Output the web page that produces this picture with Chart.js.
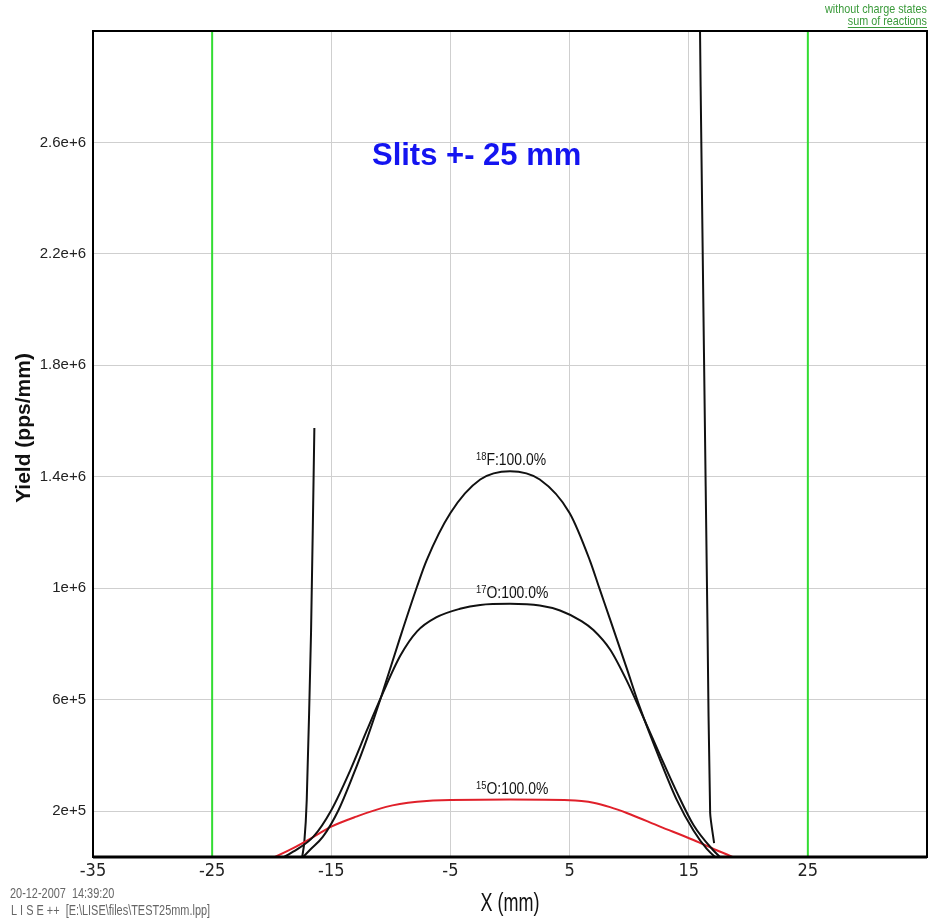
<!DOCTYPE html>
<html>
<head>
<meta charset="utf-8">
<script src="https://cdn.jsdelivr.net/npm/chart.js@4.4.1/dist/chart.umd.min.js"></script>
<style>
  html, body { margin: 0; padding: 0; background: #fff; }
</style>
</head>
<body>
<canvas id="yieldChart" width="929" height="918"></canvas>
<script>
// axis ticks
var xTicks = [-35, -25, -15, -5, 5, 15, 25];
var yTicks = [200000, 600000, 1000000, 1400000, 1800000, 2200000, 2600000];
var slitPos = [-25, 25];

// 18F distribution
var f18X = [-17.7, -16.8, -15.7, -14.4, -13.2, -12.0, -10.8, -9.2, -7.8, -7.0, -5.0, -2.5, 0, 2.5, 5.0, 6.7, 7.5, 8.4, 9.8, 10.9, 12.6, 14.0, 15.4, 16.5, 17.6];
var f18Y = [20000, 60000, 108000, 203000, 325000, 460000, 612000, 826000, 1006000, 1100000, 1270000, 1390000, 1420000, 1390000, 1270000, 1100000, 1000000, 888000, 712000, 572000, 383000, 240000, 130000, 65000, 20000];

// 17O distribution
var o17X = [-19.6, -18.2, -16.5, -15.0, -13.4, -12.0, -10.8, -9.2, -7.8, -6.2, -4.2, -2.5, 0, 2.5, 4.2, 6.0, 7.0, 8.4, 9.8, 11.2, 12.6, 14.0, 15.4, 17.0, 18.0];
var o17Y = [20000, 54000, 108000, 203000, 347000, 491000, 611000, 758000, 845000, 895000, 926000, 940000, 944000, 938000, 920000, 882000, 850000, 780000, 668000, 535000, 400000, 268000, 150000, 62000, 20000];

// 15O distribution
var o15X = [-20.5, -18.2, -16.5, -15.0, -12.9, -10.4, -7.8, -5.0, 0, 5.0, 6.0, 7.0, 8.4, 9.8, 12.6, 15.4, 17.3, 19.3];
var o15Y = [20000, 67000, 107000, 144000, 180000, 215000, 233000, 240000, 241000, 239000, 236000, 230000, 214000, 193000, 144000, 96000, 60000, 25000];

// narrow spikes near the slit edges
var spikeLX = [-17.5, -17.27, -17.06, -16.7, -16.42];
var spikeLY = [20000, 85000, 240000, 840000, 1575000];
var spikeRX = [15.9, 16.0, 16.28, 16.57, 16.8, 17.13];
var spikeRY = [3200000, 2800000, 1846000, 886000, 193000, 85000];

// curve labels
var labelMass = ['18', '17', '15'];
var labelName = ['F:100.0%', 'O:100.0%', 'O:100.0%'];

function pts(xs, ys) {
  return xs.map(function (x, i) { return { x: x, y: ys[i] } })
}

var yMin = 35000, yMax = 3000000;

var curveStyle = { showLine: true, pointRadius: 0, borderWidth: 2, fill: false, cubicInterpolationMode: 'monotone' }

var datasets = [
  Object.assign({ label: '18F', data: pts(f18X, f18Y), borderColor: '#111' }, curveStyle),
  Object.assign({ label: '17O', data: pts(o17X, o17Y), borderColor: '#111' }, curveStyle),
  Object.assign({ label: '15O', data: pts(o15X, o15Y), borderColor: '#e0202a' }, curveStyle),
  { label: 'spikeL', data: pts(spikeLX, spikeLY), showLine: true, pointRadius: 0, borderWidth: 2, borderColor: '#111', tension: 0.2 },
  { label: 'spikeR', data: pts(spikeRX, spikeRY), showLine: true, pointRadius: 0, borderWidth: 2, borderColor: '#111', tension: 0.2 }
]
slitPos.forEach(function (s) {
  datasets.push({ label: 'slit', data: [{ x: s, y: yMin }, { x: s, y: yMax }], showLine: true, pointRadius: 0, borderWidth: 2, borderColor: '#33dd33' })
})

var sans = "'Liberation Sans', Arial, sans-serif";

// draw text squeezed horizontally, like the narrow LISE++ font
function narrowText(ctx, text, x, y, squeeze, align) {
  ctx.save();
  ctx.translate(x, y);
  ctx.scale(squeeze, 1);
  ctx.textAlign = align;
  ctx.fillText(text, 0, 0);
  ctx.restore();
  return ctx.measureText(text).width * squeeze;
}

var textPlugin = {
  id: 'liseText',
  afterDraw: function (chart) {
    var ctx = chart.ctx, a = chart.chartArea, xs = chart.scales.x, ys = chart.scales.y;
    ctx.save();
    // frame
    ctx.strokeStyle = '#000';
    ctx.lineWidth = 2;
    ctx.strokeRect(a.left, a.top, a.right - a.left, a.bottom - a.top);
    ctx.lineWidth = 3;
    ctx.beginPath(); ctx.moveTo(a.left, a.bottom); ctx.lineTo(a.right, a.bottom); ctx.stroke();

    // big title inside plot
    ctx.fillStyle = '#1414f0';
    ctx.font = "bold 31px " + sans;
    ctx.textAlign = 'center';
    ctx.textBaseline = 'alphabetic';
    ctx.fillText('Slits +- 25 mm', xs.getPixelForValue(-2.8), ys.getPixelForValue(2520000));

    // peak labels
    var peaks = [Math.max.apply(null, f18Y), Math.max.apply(null, o17Y), Math.max.apply(null, o15Y)];
    ctx.fillStyle = '#111';
    peaks.forEach(function (p, i) {
      var x = xs.getPixelForValue(-2.85), y = ys.getPixelForValue(p) - 6;
      ctx.font = "11px " + sans;
      var w = narrowText(ctx, labelMass[i], x, y - 5, 0.85, 'left');
      ctx.font = "16px " + sans;
      narrowText(ctx, labelName[i], x + w, y, 0.87, 'left');
    });

    // axis titles
    ctx.fillStyle = '#111';
    ctx.font = "25px " + sans;
    narrowText(ctx, 'X (mm)', (a.left + a.right) / 2, 911, 0.72, 'center');

    ctx.save();
    ctx.translate(24, 428);
    ctx.rotate(-Math.PI / 2);
    ctx.font = "bold 21px " + sans;
    ctx.textAlign = 'center';
    ctx.textBaseline = 'middle';
    ctx.fillText('Yield (pps/mm)', 0, 0);
    ctx.restore();

    // top right notes
    ctx.fillStyle = '#3a9a3a';
    ctx.strokeStyle = '#3a9a3a';
    ctx.font = "13px " + sans;
    narrowText(ctx, 'without charge states', 927, 13, 0.83, 'right');
    var uw = narrowText(ctx, 'sum of reactions', 927, 25, 0.83, 'right');
    ctx.lineWidth = 1;
    ctx.beginPath(); ctx.moveTo(927 - uw, 27.5); ctx.lineTo(927, 27.5); ctx.stroke();

    // bottom left stamp
    ctx.fillStyle = '#666';
    ctx.font = "14px " + sans;
    narrowText(ctx, '20-12-2007  14:39:20', 10, 898, 0.78, 'left');
    narrowText(ctx, 'L I S E ++  [E:\\LISE\\files\\TEST25mm.lpp]', 11, 915, 0.78, 'left');
    ctx.restore();
  }
}

new Chart(document.getElementById('yieldChart').getContext('2d'), {
  type: 'scatter',
  data: { datasets: datasets },
  options: {
    responsive: false,
    animation: false,
    layout: { padding: { top: 31, right: 2, left: 0, bottom: 0 } },
    plugins: { legend: { display: false }, tooltip: { enabled: false } },
    scales: {
      x: {
        type: 'linear',
        min: -35,
        max: 35,
        afterBuildTicks: function (scale) { scale.ticks = xTicks.map(function (v) { return { value: v } }) },
        afterFit: function (scale) { scale.height = 61 },
        grid: { color: '#cfcfcf', lineWidth: 1, drawTicks: false },
        border: { display: false },
        ticks: { color: '#222', padding: 4, font: { family: "'Liberation Sans Narrow', 'DejaVu Sans Condensed', sans-serif", size: 18 }, maxRotation: 0, autoSkip: false }
      },
      y: {
        type: 'linear',
        min: yMin,
        max: yMax,
        afterBuildTicks: function (scale) { scale.ticks = yTicks.map(function (v) { return { value: v } }) },
        afterFit: function (scale) { scale.width = 93 },
        grid: { color: '#cfcfcf', lineWidth: 1, drawTicks: false },
        border: { display: false },
        ticks: {
          color: '#222',
          padding: 7,
          font: { family: sans, size: 15 },
          callback: function (v) { return Number(v).toExponential() }
        }
      }
    }
  },
  plugins: [textPlugin]
})
</script>
</body>
</html>
